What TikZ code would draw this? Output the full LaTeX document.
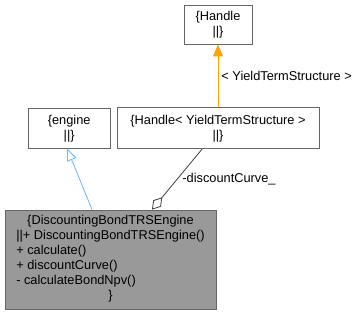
\documentclass[tikz,border=0pt]{standalone}
\usepackage{fontspec}
\setmainfont{Liberation Sans}
\usetikzlibrary{positioning, arrows.meta}

\definecolor{boxline}{HTML}{666666}
\definecolor{boxgray}{HTML}{999999}
\definecolor{inheritblue}{HTML}{63B8FF}
\definecolor{usageorange}{HTML}{FFA500}
\definecolor{memberline}{HTML}{404040}

\begin{document}
\begin{tikzpicture}[x=1pt, y=1pt,
	every node/.style={font=\fontsize{12.8}{15}\selectfont},
	box/.style={draw=boxline, fill=white, line width=0.8pt, align=center, inner sep=0pt},
	inherit/.style={draw=inheritblue, line width=0.8pt, -{Triangle[open, length=12pt, width=10pt, fill=white]}},
	usage/.style={draw=usageorange, line width=0.8pt, -{Triangle[length=12pt, width=10pt]}},
	member/.style={draw=memberline, line width=0.8pt, {Diamond[open, length=16pt, width=10pt, fill=white]}-}]

	\useasboundingbox (0,0) rectangle (364,315);

	\node [box, minimum width=68pt, minimum height=39pt] (handle) at (218,290.5)
		{\{Handle\\||\}};

	\node [box, minimum width=202pt, minimum height=41pt,
		below=63pt of handle] (hyts) {\{Handle< YieldTermStructure >\\||\}};

	\node [box, minimum width=82pt, minimum height=40pt,
		left=6pt of hyts] (engine) {\{engine\\||\}};

	\node [box, fill=boxgray, minimum width=211pt, minimum height=99pt] (main) at (110.5,55.5)
		{\begin{tabular}{@{}l@{}}
			\multicolumn{1}{@{}c@{}}{\{DiscountingBondTRSEngine}\\
			||+ DiscountingBondTRSEngine()\\
			+ calculate()\\
			+ discountCurve()\\
			- calculateBondNpv()\\
			\multicolumn{1}{@{}c@{}}{\}}
		\end{tabular}};

	\draw[inherit] ([xshift=-18.5pt]main.north) -- ([xshift=-2pt]engine.south);

	\draw[usage] (hyts.north) -- (handle.south)
		node[midway, right, inner sep=3pt]{< YieldTermStructure >};

	\draw[member] ([xshift=41.5pt]main.north) -- ([xshift=-16pt]hyts.south)
		node[midway, right, inner sep=5pt]{-discountCurve\_};

\end{tikzpicture}
\end{document}
